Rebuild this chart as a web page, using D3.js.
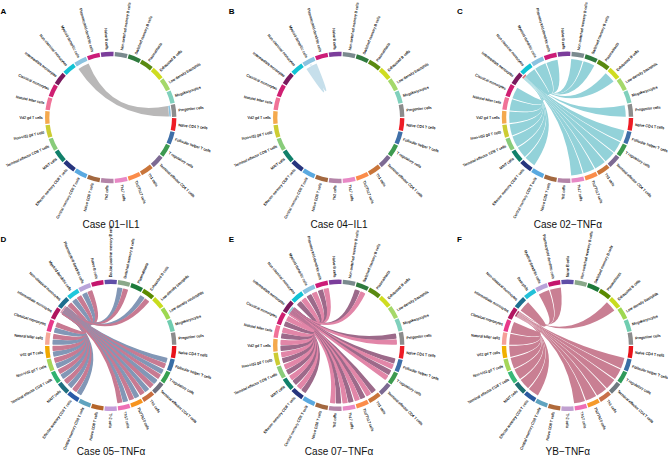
<!DOCTYPE html>
<html><head><meta charset="utf-8">
<style>html,body{margin:0;padding:0;background:#fff}svg{display:block}text{font-family:"Liberation Sans",Arial,sans-serif}</style>
<script src="https://cdn.jsdelivr.net/npm/d3@7/dist/d3.min.js"></script>
</head><body><svg id="c" width="668" height="456"></svg>
<script>
// sector orders (clockwise, starting at east)
const sectorsBase = ["Naive CD4 T cells","Follicular helper T cells","T regulatory cells","Terminal effector CD4 T cells","Th1 cells","Th1/Th17 cells","Th17 cells","Th2 cells","Naive CD8 T cells","Central memory CD8 T cells","Effector memory CD8 T cells","MAIT cells","Terminal effector CD8 T cells","Non-Vd2 gd T cells","Vd2 gd T cells","Natural killer cells","Classical monocytes","Intermediate monocytes","Non-classical monocytes","Myeloid dendritic cells","Plasmacytoid dendritic cells","Naive B cells","Non-switched memory B cells","Switched memory B cells","Plasmablasts","Exhausted B cells","Low-density basophils","Megakaryocytes","Progenitor cells"];
const sectorsD = ["Naive CD4 T cells","Follicular helper T cells","T regulatory cells","Terminal effector CD4 T cells","Th1 cells","Th1/Th17 cells","Th17 cells","Th2 cells","Naive CD8 T cells","Central memory CD8 T cells","Effector memory CD8 T cells","MAIT cells","Terminal effector CD8 T cells","Non-Vd2 gd T cells","Vd2 gd T cells","Natural killer cells","Classical monocytes","Intermediate monocytes","Non-classical monocytes","Myeloid dendritic cells","Plasmacytoid dendritic cells","Naive B cells","Double-positive memory B cells","Switched memory B cells","Plasmablasts","Exhausted B cells","Low-density basophils","Low-density neutrophils","Megakaryocytes","Progenitor cells"];
const sectorsF = ["Naive CD4 T cells","Follicular helper T cells","T regulatory cells","Terminal effector CD4 T cells","Th1 cells","Th1/Th17 cells","Th17 cells","Th2 cells","Naive CD8 T cells","Central memory CD8 T cells","Effector memory CD8 T cells","MAIT cells","Terminal effector CD8 T cells","Non-Vd2 gd T cells","Vd2 gd T cells","Natural killer cells","Classical monocytes","Intermediate monocytes","Non-classical monocytes","Basophils","Myeloid dendritic cells","Plasmacytoid dendritic cells","Naive B cells","Non-switched memory B cells","Switched memory B cells","Plasmablasts","Exhausted B cells","Low-density basophils","Megakaryocytes","Progenitor cells"];

const ringColorsBase = ["#ee1c25","#3f6fa8","#3d9a50","#7d6a93","#c9753a","#fb8c4a","#e888c5","#b484a8","#a3683f","#5aa9e0","#27357e","#11806a","#88cc7a","#cccc33","#f4a94e","#f07298","#cf1f72","#7a1a5e","#11c3d4","#8bc3e0","#cc1c78","#7b3d9b","#7a8a8e","#2f7a3e","#5a8a10","#cfdc20","#a5d86a","#80d0bc","#8c8c8c"];
const ringColorsD = ["#e8121a","#3a6ea5","#35a050","#6f6f7f","#c86d3f","#f7941d","#ee6fb5","#c49cd9","#b5652a","#5fa3bf","#2a5aa8","#1f6f80","#2fb36e","#a5d65a","#f0a800","#f5a898","#e8398a","#b0155f","#1e6f8f","#1ec8dc","#b8a3d9","#c4166e","#5f4fa8","#8aa88a","#1e7a3a","#5a8a00","#c8dc1e","#9ed850","#70cdb0","#8c8c8c"];
const ringColorsF = ["#e8121a","#3a6ea5","#2f9a5a","#6f7a80","#c8704a","#f59a2a","#ee6fb5","#c0a0d0","#b06a3a","#5fa3bf","#2a5aa0","#1f6f70","#38b878","#a5d65a","#f0b000","#f5a098","#e8398a","#b0155f","#1e6f8f","#22c0d8","#b8a3d9","#c4166e","#5f4fa8","#8aa88a","#1e7a3a","#5a8a00","#c8dc1e","#9ed850","#70cdb0","#8c8c8c"];

// ribbon targets per case
const targetsA = ["Myeloid dendritic cells"];
const targetsB = ["Myeloid dendritic cells"];
const targetsC = ["Follicular helper T cells","T regulatory cells","Terminal effector CD4 T cells","Th1 cells","Th1/Th17 cells","Th17 cells","Effector memory CD8 T cells","MAIT cells","Terminal effector CD8 T cells","Non-Vd2 gd T cells","Vd2 gd T cells","Natural killer cells","Classical monocytes","Non-classical monocytes","Myeloid dendritic cells","Plasmacytoid dendritic cells","Non-switched memory B cells","Switched memory B cells","Exhausted B cells","Progenitor cells"];
const targetsD = ["Follicular helper T cells","T regulatory cells","Terminal effector CD4 T cells","Th1 cells","Th1/Th17 cells","Th17 cells","Effector memory CD8 T cells","MAIT cells","Terminal effector CD8 T cells","Non-Vd2 gd T cells","Vd2 gd T cells","Natural killer cells","Classical monocytes","Non-classical monocytes","Myeloid dendritic cells","Plasmacytoid dendritic cells","Switched memory B cells","Exhausted B cells"];
const targetsE = ["Follicular helper T cells","T regulatory cells","Th1 cells","Th1/Th17 cells","Th17 cells","Th2 cells","Effector memory CD8 T cells","MAIT cells","Terminal effector CD8 T cells","Non-Vd2 gd T cells","Vd2 gd T cells","Natural killer cells","Classical monocytes","Non-classical monocytes","Myeloid dendritic cells","Plasmacytoid dendritic cells","Switched memory B cells","Progenitor cells"];
const targetsF = ["Follicular helper T cells","T regulatory cells","Terminal effector CD4 T cells","Th1 cells","Th1/Th17 cells","Th17 cells","Effector memory CD8 T cells","MAIT cells","Terminal effector CD8 T cells","Non-Vd2 gd T cells","Vd2 gd T cells","Natural killer cells","Classical monocytes","Non-classical monocytes","Myeloid dendritic cells","Plasmacytoid dendritic cells","Exhausted B cells"];

const titles = ["Case 01\u2212IL1","Case 04\u2212IL1","Case 02\u2212TNF\u03b1","Case 05\u2212TNF\u03b1","Case 07\u2212TNF\u03b1","YB\u2212TNF\u03b1"];
const letters = ["A","B","C","D","E","F"];

const deg = Math.PI/180, R = 65.7, ringW = 4.4, ribbonR = 58.3, stripR = 60.2;
const panels = [
 {id:0,cx:110.7,cy:117.5,sectors:sectorsBase,colors:ringColorsBase,targets:targetsA,ribbons:["#b9b8b8"],src:[78.6,89],strip:"#8bc3e0"},
 {id:1,cx:338.7,cy:117.5,sectors:sectorsBase,colors:ringColorsBase,targets:targetsB,ribbons:["#c6dfeb"],src:[331,333],strip:"#e4f0f6"},
 {id:2,cx:567.5,cy:117.3,sectors:sectorsBase,colors:ringColorsBase,targets:targetsC,ribbons:["#93d2d9"],src:[311,315.5],strip:"#e0707a"},
 {id:3,cx:110.7,cy:345.3,sectors:sectorsD,colors:ringColorsD,targets:targetsD,ribbons:["#8297b6","#c87a92"],src:[303,311],strip:"#d89ab0"},
 {id:4,cx:338.7,cy:345.3,sectors:sectorsBase,colors:ringColorsBase,targets:targetsE,ribbons:["#9c6a8a","#e286a8"],src:[302,310],strip:"#8fd4dc"},
 {id:5,cx:567.5,cy:345.3,sectors:sectorsF,colors:ringColorsF,targets:targetsF,ribbons:["#c97f93"],src:[299,305],strip:"#b04a70"}
];
const svg = d3.select("#c");
const lx = [0.5,228.7,457,0.5,228.7,457], ly=[14,14,14,242,242,242];

panels.forEach(p=>{
  const g = svg.append("g").attr("transform",`translate(${p.cx},${p.cy})`);
  const band = d3.scaleBand().domain(p.sectors).range([Math.PI/2,Math.PI/2+2*Math.PI]).paddingInner(0.09).paddingOuter(0.045);
  const color = d3.scaleOrdinal().domain(p.sectors).range(p.colors);
  const arc = d3.arc().innerRadius(R-ringW).outerRadius(R);
  g.selectAll("path.ring").data(p.sectors).join("path").attr("class","ring")
    .attr("d",d=>arc({startAngle:band(d),endAngle:band(d)+band.bandwidth()})).attr("fill",d=>color(d));
  // labels
  g.selectAll("text.l").data(p.sectors).join("text").attr("class","l")
    .attr("font-size",3.7).attr("fill","#000").attr("stroke","#000").attr("stroke-width",0.07)
    .attr("dy","0.35em")
    .attr("text-anchor",d=>{const m=(band(d)+band.bandwidth()/2)/deg%360;return m>180?"end":"start";})
    .attr("transform",d=>{const m=(band(d)+band.bandwidth()/2)/deg%360;
       return m>180?`rotate(${m+90}) translate(${-(R+2.3)},0)`:`rotate(${m-90}) translate(${R+2.3},0)`;})
    .text(d=>d);
  // ribbons
  const P=(a,r)=>[r*Math.sin(a),-r*Math.cos(a)];
  const srcMid=(p.src[0]+p.src[1])/2*deg;
  const items=[];
  p.targets.forEach(t=>{
    const w=band.bandwidth(),k=p.ribbons.length;
    const inset=k>1?0.07*w:0, a0=band(t)+inset, span=w-2*inset;
    p.ribbons.forEach((c,i)=>{
      const m=k>1?0.09*w:0;
      items.push({t,t0:a0+i*span/k+(i>0?m:0),t1:a0+(i+1)*span/k-(i<k-1?m:0),c});
    });
  });
  const norm=a=>{let x=a%(2*Math.PI);return x<0?x+2*Math.PI:x;};
  items.forEach(d=>{d.off=norm((d.t0+d.t1)/2-srcMid+ (p.id===1?0.5:0));});
  items.sort((a,b)=>a.off-b.off);
  const n=items.length, s0=p.src[0]*deg, s1=p.src[1]*deg, step=(s1-s0)/n;
  items.forEach((d,j)=>{ d.s1=s1-j*step; d.s0=d.s1-step; });
  const ribbonPath=d=>{
    const q=d3.path(), r=ribbonR-(p.ribbons.length>1?0.75:0);
    const A=P(d.s0,r),T0=P(d.t0,r);
    q.moveTo(A[0],A[1]);
    q.arc(0,0,r,d.s0-Math.PI/2,d.s1-Math.PI/2);
    q.quadraticCurveTo(0,0,T0[0],T0[1]);
    q.arc(0,0,r,d.t0-Math.PI/2,d.t1-Math.PI/2);
    q.quadraticCurveTo(0,0,A[0],A[1]);
    q.closePath();
    return q.toString();
  };
  g.selectAll("path.rb").data(items).join("path").attr("class","rb")
    .attr("d",ribbonPath).attr("fill",d=>d.c)
    .attr("stroke",d=>p.ribbons.length>1?d.c:"none").attr("stroke-width",p.ribbons.length>1?1.5:0).attr("stroke-linejoin","round");
  // source strip
  const sarc=d3.arc().innerRadius(ribbonR+0.3).outerRadius(stripR);
  g.append("path").attr("d",sarc({startAngle:s0,endAngle:s1})).attr("fill",p.strip);
  // title and letter
  g.append("text").attr("text-anchor","middle").attr("x",0.3).attr("y",p.id<3?110.7:109.7).attr("font-size",10).attr("fill","#111").text(titles[p.id]);
  svg.append("text").attr("x",lx[p.id]).attr("y",ly[p.id]).attr("font-size",8).attr("font-weight","bold").attr("fill","#000").text(letters[p.id]);
});
</script></body></html>
